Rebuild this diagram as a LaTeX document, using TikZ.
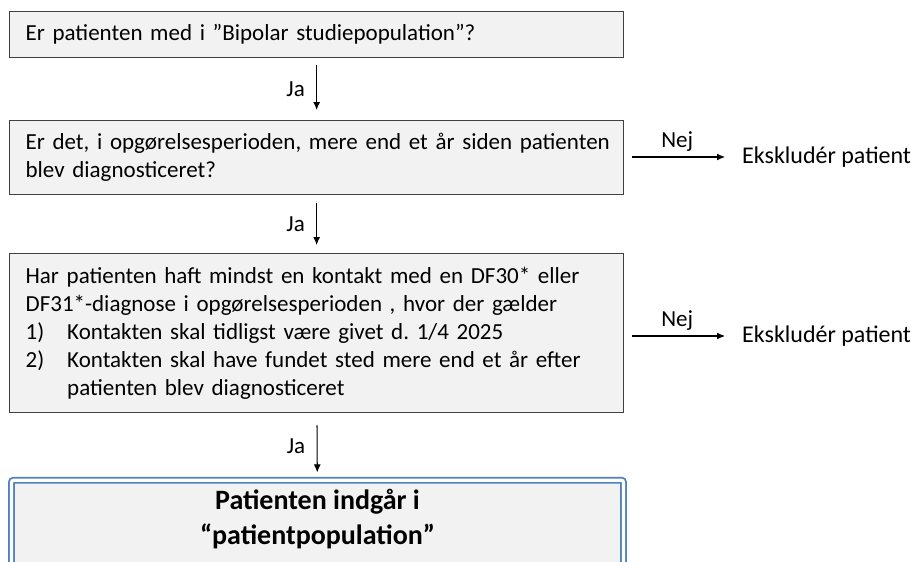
\documentclass[tikz,border=0pt]{standalone}
\usepackage{fontspec}
\setmainfont{Carlito}
\usepackage{tikz}
\usetikzlibrary{arrows.meta}
\definecolor{boxfill}{HTML}{F2F2F2}
\definecolor{boxline}{HTML}{404040}
\definecolor{endline}{HTML}{4F81BD}
\frenchspacing
\hyphenpenalty=10000
\hbadness=10000

\begin{document}
\begin{tikzpicture}[x = 1pt, y = -1pt,
		qbox/.style = {draw = boxline, line width = 1.3pt, fill = boxfill, anchor = north west, text width = 582pt, inner xsep = 16pt, inner ysep = 0pt, align = left, font = \fontsize{23}{28.1}\selectfont},
		arr/.style = {-{Latex[length = 8pt, width = 7pt]}, line width = 1.1pt},
		lbl/.style = {font = \fontsize{23}{28}\selectfont},
		excl/.style = {anchor = west, inner sep = 0pt, font = \fontsize{24}{29}\selectfont}]
	\clip (0, 0) rectangle (911, 562);
	\node[qbox, minimum height = 46pt] (q1) at (9, 11) {Er patienten med i ”Bipolar studiepopulation”?};
	\node[qbox, minimum height = 74pt] (q2) at (9, 120) {\mbox{Er det, i opgørelsesperioden, mere end et år siden patienten}\\blev diagnosticeret?};
	\node[qbox, minimum height = 159pt] (q3) at (9, 253) {Har patienten haft mindst en kontakt med en DF30* eller\\DF31*-diagnose i opgørelsesperioden , hvor der gælder\\\makebox[41.6pt][l]{1)}Kontakten skal tidligst være givet d. 1/4 2025\\\makebox[41.6pt][l]{2)}Kontakten skal have fundet sted mere end et år efter\\\hspace*{41.6pt}patienten blev diagnosticeret};
	\node[draw = endline, line width = 1.8pt, double = white, double distance = 3.2pt, fill = boxfill, rounded corners = 2pt, anchor = north, minimum width = 612pt, inner ysep = 9pt, align = center, font = \fontsize{28}{35}\selectfont\bfseries] (pop) at (317.5, 479.4) {Patienten indgår i\\“patientpopulation”\\\rule{0pt}{1pt}};
	\node[excl] (ex1) at (742, 157) {Ekskludér patient};
	\node[excl] (ex2) at (742, 336) {Ekskludér patient};
	\draw[arr, shorten < = 7pt, shorten > = 10pt] (q1) -- (q2) node[lbl, midway, left = 8pt] {Ja};
	\draw[arr, shorten < = 8pt, shorten > = 8pt] (q2) -- (q3) node[lbl, midway, left = 8pt] {Ja};
	\draw[arr, shorten < = 12pt, shorten > = 7pt] (q3) -- (pop) node[lbl, midway, left = 8pt] {Ja};
	\draw[arr, shorten < = 8pt, shorten > = 17pt] (q2.east |- ex1.west) -- (ex1.west) node[lbl, pos = 0.45, above = 2pt] {Nej};
	\draw[arr, shorten < = 8pt, shorten > = 17pt] (q3.east |- ex2.west) -- (ex2.west) node[lbl, pos = 0.45, above = 2pt] {Nej};
\end{tikzpicture}
\end{document}
